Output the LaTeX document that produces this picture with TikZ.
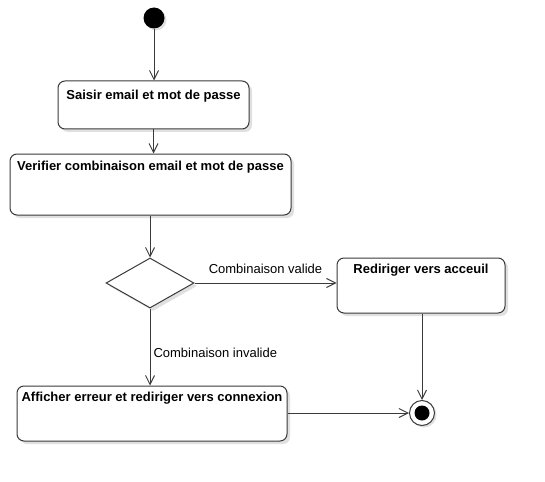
\documentclass[tikz,border=0pt]{standalone}
\usepackage{fontspec}
\setmainfont{Liberation Sans}
\usetikzlibrary{arrows.meta,shadows,shapes.geometric}
\definecolor{linec}{HTML}{3A3A3A}
\tikzset{
  act/.style={draw=linec, line width=1pt, rounded corners=7pt, fill=white,
    drop shadow={shadow xshift=3pt, shadow yshift=-3pt, fill=black!12, opacity=1}},
  acttext/.style={font=\bfseries\fontsize{13}{15}\selectfont, anchor=north, inner sep=0pt},
  flow/.style={draw=linec, line width=1pt, -{Straight Barb[length=9pt,width=9pt]}},
  lbl/.style={font=\fontsize{13}{15}\selectfont, inner sep=0pt}
}
\begin{document}
\begin{tikzpicture}[x=1pt,y=-1pt]
\useasboundingbox (0,0) rectangle (545,481);
% start
\fill[black!12] (156,20) circle (10.5);
\node[circle, fill=black, minimum size=21pt, inner sep=0pt] (start) at (154,18) {};
% boxes
\node[act, minimum width=191pt, minimum height=48pt, inner sep=0pt] (b1) at (153.5,105) {};
\node[acttext] at ([yshift=-9pt]b1.north) {Saisir email et mot de passe};
\node[act, minimum width=281pt, minimum height=61pt, inner sep=0pt] (b2) at (150.5,184.5) {};
\node[acttext] at ([yshift=-7pt]b2.north) {Verifier combinaison email et mot de passe};
\node[diamond, draw=linec, line width=1pt, fill=white, minimum width=88pt, minimum height=50pt, inner sep=0pt, aspect=1.76,
  drop shadow={shadow xshift=3pt, shadow yshift=-3pt, fill=black!12, opacity=1}] (d) at (150,283) {};
\node[act, minimum width=168pt, minimum height=55pt, inner sep=0pt] (b3) at (421,285.5) {};
\node[acttext] at ([yshift=-6pt]b3.north) {Rediriger vers acceuil};
\node[act, minimum width=270pt, minimum height=55pt, inner sep=0pt] (b4) at (152,413.5) {};
\node[acttext] at ([yshift=-6pt]b4.north) {Afficher erreur et rediriger vers connexion};
% end
\fill[black!12] (424,415) circle (12.5);
\node[circle, draw=linec, line width=1pt, fill=white, minimum size=25pt, inner sep=0pt] (end) at (422,413) {};
\fill[black] (end.center) circle (7.5);
% flows
\draw[flow] (start) -- (b1.north -| start);
\draw[flow] (b1.south) -- (b1.south |- b2.north);
\draw[flow] (b2.south -| d.north) -- (d.north);
\draw[flow] (d.east) -- (b3.west |- d.east) node[lbl, midway, above=9pt] {Combinaison valide};
\draw[flow] (d.south) -- (b4.north -| d.south) node[lbl, pos=0.57, right=3pt] {Combinaison invalide};
\draw[flow] (b3.south -| end) -- (end.north);
\draw[flow] (b4.east |- end) -- (end.west);
\end{tikzpicture}
\end{document}
